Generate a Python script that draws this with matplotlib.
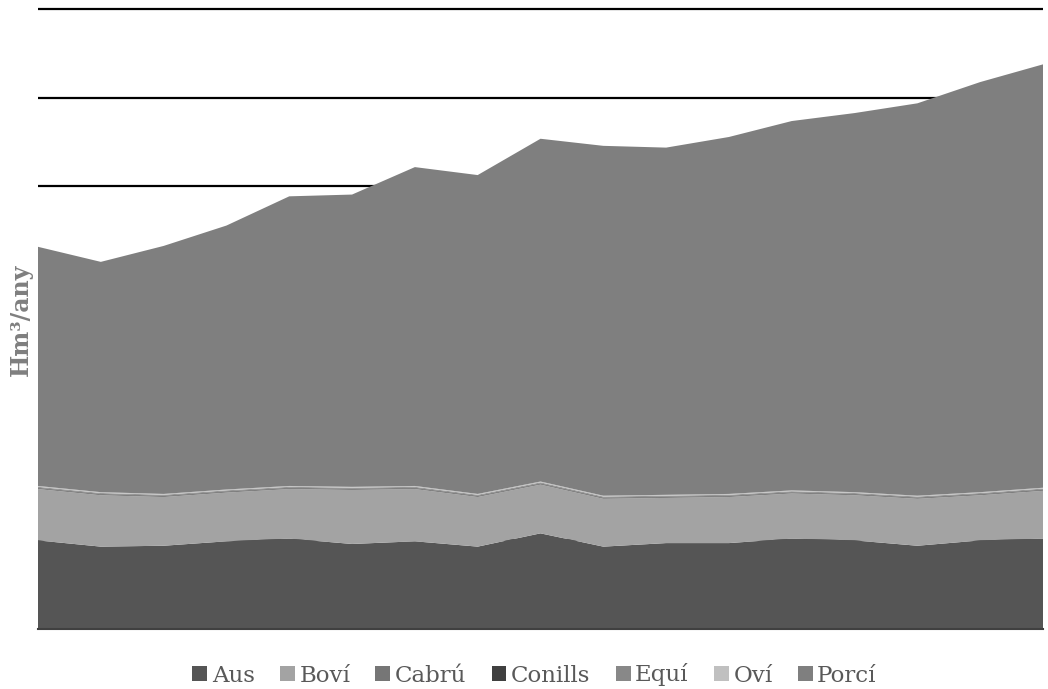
import numpy as np
import matplotlib.pyplot as plt

# years (x labels are not shown in the chart)
years = list(range(2000, 2017))

aus = [1.00, 0.93, 0.94, 0.99, 1.02, 0.96, 0.99, 0.93, 1.08, 0.93, 0.97, 0.97, 1.02, 1.00, 0.94, 1.00, 1.02]
bovi = [0.58, 0.58, 0.55, 0.55, 0.56, 0.61, 0.59, 0.56, 0.55, 0.54, 0.51, 0.52, 0.51, 0.51, 0.53, 0.51, 0.54]
cabru = [0.010] * 17
conills = [0.005] * 17
equi = [0.010] * 17
ovi = [0.010] * 17
porci = [2.70, 2.60, 2.80, 2.98, 3.27, 3.30, 3.60, 3.60, 3.87, 3.95, 3.92, 4.03, 4.17, 4.28, 4.43, 4.63, 4.78]

labels = ['Aus', 'Boví', 'Cabrú', 'Conills', 'Equí', 'Oví', 'Porcí']
colors = ['#555555', '#a3a3a3', '#767676', '#404040', '#888888', '#c0c0c0', '#7f7f7f']

plt.rcParams['font.family'] = ['DejaVu Serif']

fig = plt.figure(figsize=(10.48, 6.89), dpi=100)
# a few pixels of head room so the top gridline is not cut in half
ax = fig.add_axes([38 / 1048, 1 - 629 / 689, 1005 / 1048, 623 / 689])

ax.stackplot(years, aus, bovi, cabru, conills, equi, ovi, porci,
             labels=labels, colors=colors, linewidth=0, zorder=3)

ax.set_xlim(years[0], years[-1])
ax.set_ylim(0, 7 * 623 / 620)
ax.set_yticks(np.arange(0, 8, 1))
ax.yaxis.grid(True, color='black', linewidth=1.6, zorder=1)
ax.set_axisbelow(True)
ax.tick_params(left=False, bottom=False, labelleft=False, labelbottom=False)
for s in ['top', 'right', 'left']:
    ax.spines[s].set_visible(False)
ax.spines['bottom'].set_color('#404040')
ax.spines['bottom'].set_linewidth(1.5)
ax.spines['bottom'].set_zorder(4)

ax.set_ylabel('Hm³/any', fontsize=17, fontweight='bold', color='#7f7f7f')
ax.yaxis.set_label_coords(-0.005, 0.497)

leg = fig.legend(loc='center', bbox_to_anchor=(0.51, 1 - 675 / 689), ncol=7,
                 frameon=False, fontsize=16.5, handlelength=0.65, handleheight=0.65,
                 handletextpad=0.2, columnspacing=1.1)
for t in leg.get_texts():
    t.set_color('#595959')

fig.savefig('out.png', dpi=100)
